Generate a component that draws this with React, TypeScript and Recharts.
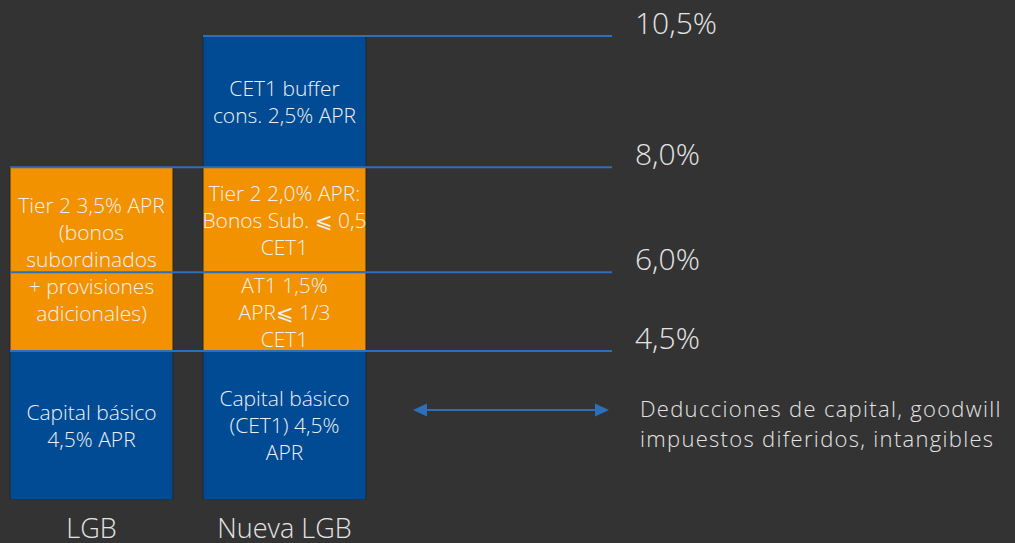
import { Bar, BarChart, Customized, LabelList, ReferenceLine, XAxis, YAxis } from "recharts";

const categories = ["LGB", "Nueva LGB"];
const capital = [4.5, 4.5];
const at1 = [0, 1.5];
const tier2 = [3.5, 2.0];
const buffer = [0, 2.5];

const capitalText = [["Capital básico", "4,5% APR"], ["Capital básico", "(CET1) 4,5%", "APR"]];
const at1Text = [[], ["AT1 1,5%", "APR⩽ 1/3", "CET1"]];
const tier2Text = [
    ["Tier 2 3,5% APR", "(bonos", "subordinados", "+ provisiones", "adicionales)"],
    ["Tier 2 2,0% APR:", "Bonos Sub. ⩽ 0,5", "CET1"],
];
const bufferText = [[], ["CET1 buffer", "cons. 2,5% APR"]];

const levels = [10.5, 8.0, 6.0, 4.5];
const levelLabels = ["10,5%", "8,0%", "6,0%", "4,5%"];
const noteLines = ["Deducciones de capital, goodwill", "impuestos diferidos, intangibles"];

const data = categories.map((name, i) => ({
    name,
    capital: capital[i],
    at1: at1[i],
    tier2: tier2[i],
    buffer: buffer[i],
    capitalText: capitalText[i],
    at1Text: at1Text[i],
    tier2Text: tier2Text[i],
    bufferText: bufferText[i],
}));

const BG = "#333333";
const BLUE = "#004b93";
const ORANGE = "#f39200";
const LINE = "#2d6fb8";
const TEXT = "#e4e4e4";
const FONT = "'Open Sans', Roboto, sans-serif";
const BAND_STEP = 193;

function SegmentText(props: any) {
    const { x, y, width, height, value } = props;
    const lines: string[] = value || [];
    if (!lines.length) return null;
    const lh = 27;
    const cx = x + width / 2;
    const top = y + height / 2 - ((lines.length - 1) * lh) / 2;
    return (
        <text textAnchor="middle" fill="#eef0f6" fontSize={21} fontFamily={FONT} fontWeight={300}>
            {lines.map((l, i) => (
                <tspan key={i} x={cx} y={top + i * lh} dominantBaseline="central">
                    {l}
                </tspan>
            ))}
        </text>
    );
}

function Note() {
    const y = 410;
    return (
        <g>
            <line x1={424} y1={y} x2={598} y2={y} stroke={LINE} strokeWidth={2} />
            <polygon points={`413,${y} 427,${y - 6.5} 427,${y + 6.5}`} fill={LINE} />
            <polygon points={`609,${y} 595,${y - 6.5} 595,${y + 6.5}`} fill={LINE} />
            <text fill={TEXT} fontSize={22} letterSpacing={1.3} fontFamily={FONT} fontWeight={300}>
                {noteLines.map((l, i) => (
                    <tspan key={i} x={640} y={408 + i * 30} dominantBaseline="central">
                        {l}
                    </tspan>
                ))}
            </text>
        </g>
    );
}

export default function App() {
    return (
        <div style={{ position: "fixed", left: 0, top: 0, width: 1015, height: 543, background: BG }}>
            <BarChart width={1015} height={543} data={data} margin={{ top: 36, right: 403, bottom: 0, left: 10 }}>
                <XAxis
                    dataKey="name"
                    axisLine={false}
                    tickLine={false}
                    tickSize={0}
                    tickMargin={19}
                    height={43}
                    interval={0}
                    padding={{ left: -15, right: 231 }}
                    tick={{ fill: TEXT, fontSize: 27, fontFamily: FONT, fontWeight: 300 }}
                />
                <YAxis hide type="number" domain={[1.66, 10.5]} allowDataOverflow />

                <Bar dataKey="capital" stackId="s" fill={BLUE} stroke="#262626" barSize={163} isAnimationActive={false}>
                    <LabelList dataKey="capitalText" content={SegmentText} />
                </Bar>
                <Bar dataKey="at1" stackId="s" fill={ORANGE} stroke="#262626" barSize={163} isAnimationActive={false}>
                    <LabelList dataKey="at1Text" content={SegmentText} />
                </Bar>
                <Bar dataKey="tier2" stackId="s" fill={ORANGE} stroke="#262626" barSize={163} isAnimationActive={false}>
                    <LabelList dataKey="tier2Text" content={SegmentText} />
                </Bar>
                <Bar dataKey="buffer" stackId="s" fill={BLUE} stroke="#262626" barSize={163} isAnimationActive={false}>
                    <LabelList dataKey="bufferText" content={SegmentText} />
                </Bar>

                {levels.map((v, i) => (
                    <ReferenceLine
                        key={v}
                        y={v}
                        ifOverflow="visible"
                        shape={(p: any) => (
                            <line
                                x1={Math.min(p.x1, p.x2) + (i === 0 ? BAND_STEP : 0)}
                                y1={p.y1}
                                x2={Math.max(p.x1, p.x2)}
                                y2={p.y2}
                                stroke={LINE}
                                strokeWidth={2}
                            />
                        )}
                        label={{
                            value: levelLabels[i],
                            position: "right",
                            offset: 23,
                            dy: -13,
                            fill: TEXT,
                            fontSize: 30,
                            fontFamily: FONT,
                            fontWeight: 300,
                        }}
                    />
                ))}

                <Customized component={Note} />
            </BarChart>
        </div>
    );
}
